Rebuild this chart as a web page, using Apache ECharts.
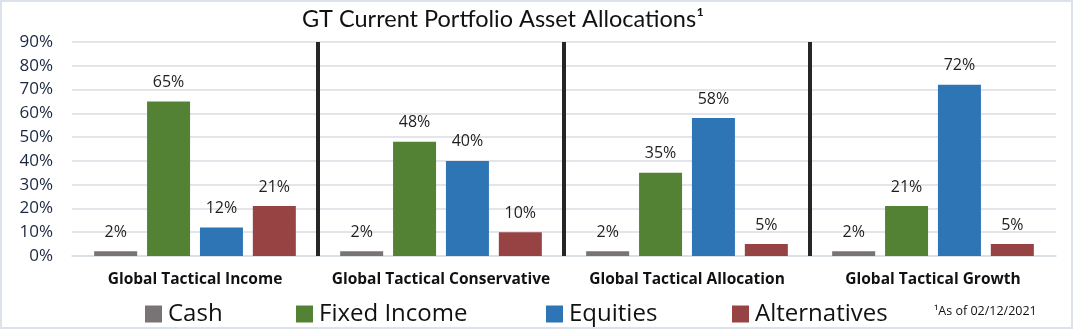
<!DOCTYPE html>
<html>
<head>
<meta charset="utf-8">
<script src="https://cdn.jsdelivr.net/npm/echarts@6/dist/echarts.min.js"></script>
<style>
  html, body { margin: 0; padding: 0; background: #fff; }
  #chart { width: 1074px; height: 331px; }
</style>
</head>
<body>
<div id="chart"></div>
<script>
// Portfolios (x categories) and allocation per asset class, in percent
const portfolios = ['Global Tactical Income', 'Global Tactical Conservative', 'Global Tactical Allocation', 'Global Tactical Growth'];
const cash = [2, 2, 2, 2];
const fixedIncome = [65, 48, 35, 21];
const equities = [12, 40, 58, 72];
const alternatives = [21, 10, 5, 5];
const yTicks = [0, 10, 20, 30, 40, 50, 60, 70, 80, 90];
// Separators between portfolios, on a 0..4 helper axis
const dividers = [1, 2, 3];

const colors = { cash: '#787374', fixed: '#548235', equity: '#2e75b6', alt: '#974344' };
const font = '"Open Sans", "Noto Sans", sans-serif';

function barSeries(name, data, color) {
  return {
    name: name,
    type: 'bar',
    data: data,
    barWidth: 43,
    barGap: '23%',
    itemStyle: { color: color },
    label: {
      show: true,
      position: 'top',
      distance: 11,
      formatter: p => p.value + '%',
      color: '#1e1e1e',
      fontFamily: font,
      fontSize: 16
    }
  };
}

function legendAt(name, left) {
  return {
    data: [name],
    left: left,
    top: 297,
    icon: 'rect',
    itemWidth: 17,
    itemHeight: 17,
    itemGap: 0,
    textStyle: { fontFamily: font, fontSize: 24, color: '#111', padding: [0, 0, 0, 1] },
    selectedMode: false
  };
}

const chart = echarts.init(document.getElementById('chart'), null, { renderer: 'canvas' });
chart.setOption({
  animation: false,
  backgroundColor: '#fff',
  graphic: [{
    type: 'rect',
    shape: { x: 1, y: 1, width: 1071, height: 327 },
    style: { fill: 'none', stroke: '#dce2e9', lineWidth: 2 },
    silent: true
  }],
  title: [
    {
      text: 'GT Current Portfolio Asset Allocations¹',
      left: 302,
      top: 7,
      padding: 0,
      textStyle: { fontFamily: 'Lato, "Open Sans", sans-serif', fontSize: 23.5, fontWeight: 'normal', color: '#111' }
    },
    {
      text: '¹As of 02/12/2021',
      left: 934,
      top: 305,
      padding: 0,
      textStyle: { fontFamily: font, fontSize: 12.5, fontWeight: 'normal', color: '#111' }
    }
  ],
  legend: [
    legendAt('Cash', 140),
    legendAt('Fixed Income', 291),
    legendAt('Equities', 541),
    legendAt('Alternatives', 727)
  ],
  grid: { left: 72, right: 18, top: 42, bottom: 75 },
  xAxis: [
    {
      type: 'category',
      data: portfolios,
      axisLine: { show: true, lineStyle: { color: '#d9dee4', width: 1.5 } },
      axisTick: { show: false },
      axisLabel: {
        interval: 0,
        margin: 16,
        fontFamily: font,
        fontWeight: 'bold',
        fontSize: 15.5,
        color: '#111'
      }
    },
    {
      type: 'value',
      min: 0,
      max: 4,
      show: false
    }
  ],
  yAxis: {
    type: 'value',
    min: yTicks[0],
    max: yTicks[yTicks.length - 1],
    interval: 10,
    axisLine: { show: false },
    axisTick: { show: false },
    splitLine: { lineStyle: { color: '#d9dee4', width: 1.5 } },
    axisLabel: {
      margin: 19,
      formatter: v => v + '%',
      fontFamily: font,
      fontSize: 17,
      color: '#1b2740'
    }
  },
  series: [
    barSeries('Cash', cash, colors.cash),
    barSeries('Fixed Income', fixedIncome, colors.fixed),
    barSeries('Equities', equities, colors.equity),
    barSeries('Alternatives', alternatives, colors.alt),
    {
      type: 'line',
      xAxisIndex: 1,
      data: [],
      silent: true,
      markLine: {
        symbol: 'none',
        label: { show: false },
        lineStyle: { color: '#262626', width: 4, type: 'solid' },
        data: dividers.map(d => ({ xAxis: d }))
      }
    }
  ]
});
</script>
</body>
</html>
